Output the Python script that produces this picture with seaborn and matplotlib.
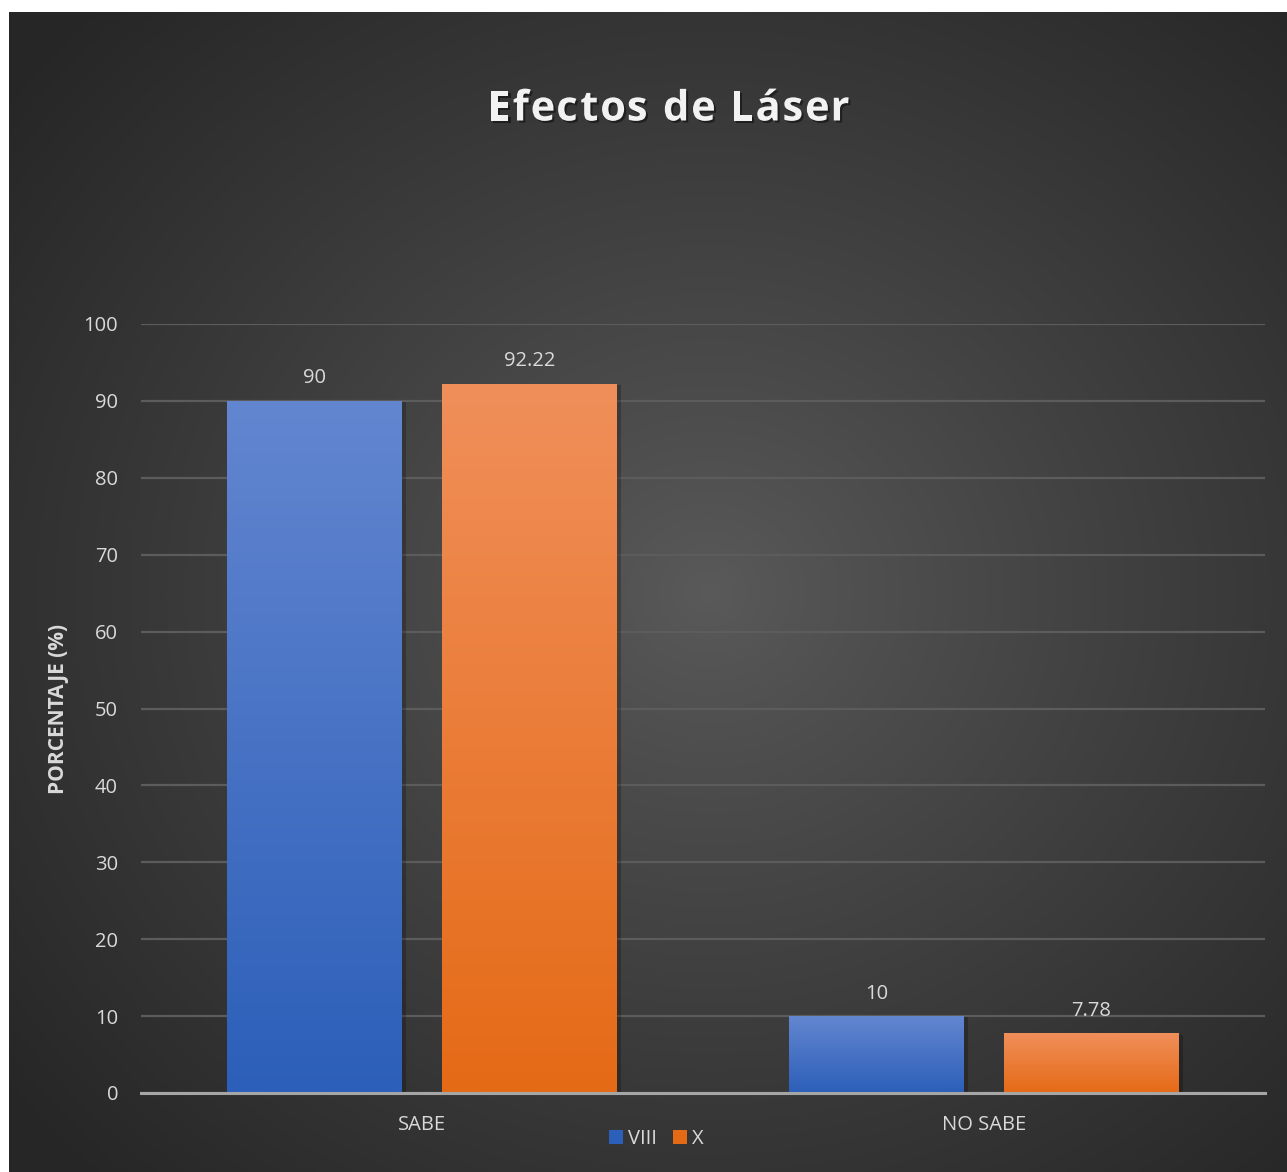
import numpy as np
import pandas as pd
import matplotlib
matplotlib.use("Agg")
import matplotlib.pyplot as plt
import matplotlib.patheffects as pe
from matplotlib.colors import LinearSegmentedColormap, to_rgb
from matplotlib.patches import Patch
import seaborn as sns

# Data
categories = ["SABE", "NO SABE"]
series = ["VIII", "X"]
values_viii = [90, 10]
values_x = [92.22, 7.78]
y_ticks = [0, 10, 20, 30, 40, 50, 60, 70, 80, 90, 100]
title = "Efectos de Láser"

df = pd.DataFrame({
    "categoria": categories * 2,
    "grupo": [series[0]] * 2 + [series[1]] * 2,
    "valor": values_viii + values_x,
})

W, H = 1287, 1172
DPI = 100
FONT = "Open Sans"
TXT = "#d9d9d9"
FS = 14.5

sns.set_theme(style="dark")
plt.rcParams["font.family"] = [FONT, "DejaVu Sans"]

fig = plt.figure(figsize=(W / DPI, H / DPI), dpi=DPI, facecolor="white")

# Chart area with radial dark background
bx0, by_top = 9, 12
bg_ax = fig.add_axes([bx0 / W, 0, (W - bx0) / W, (H - by_top) / H])
bg_ax.set_axis_off()
bw, bh = W - bx0, H - by_top
yy, xx = np.mgrid[0:bh, 0:bw]
cx, cy = 700, 580
d = np.sqrt(((xx - cx) / 900.0) ** 2 + ((yy - cy) / 820.0) ** 2)
d = np.clip(d, 0, 1) ** 0.9
c_in = np.array(to_rgb("#5a5a5a"))
c_out = np.array(to_rgb("#262626"))
img = c_in[None, None, :] * (1 - d[..., None]) + c_out[None, None, :] * d[..., None]
bg_ax.imshow(img, aspect="auto", extent=[0, 1, 0, 1], interpolation="bilinear")
bg_ax.set_xlim(0, 1)
bg_ax.set_ylim(0, 1)

# Plot axes
ax_l, ax_r = 141, 1265
ax_bot, ax_top = 1093, 324
ax = fig.add_axes([ax_l / W, (H - ax_bot) / H, (ax_r - ax_l) / W, (ax_bot - ax_top) / H])
ax.set_facecolor("none")

blue_top, blue_bot = "#6386d0", "#2c5fb9"
orng_top, orng_bot = "#f08f5a", "#e56a16"

sns.barplot(data=df, x="categoria", y="valor", hue="grupo", order=categories,
            hue_order=series, palette=[blue_bot, orng_bot], width=0.765, gap=0.186,
            ax=ax, legend=False, saturation=1, zorder=3, linewidth=0, edgecolor="none")

ax.set_xlim(-0.5, 1.5)
ax.set_ylim(0, 100)
ax.set_yticks(y_ticks)
ax.set_yticklabels([str(t) for t in y_ticks], color=TXT, fontsize=FS)
ax.tick_params(axis="y", length=0, pad=16.5)
ax.tick_params(axis="x", length=0, pad=16, colors=TXT, labelsize=FS)
ax.set_xlabel("")
ax.set_ylabel("PORCENTAJE (%)", color=TXT, fontsize=15, fontweight="bold")
ax.yaxis.set_label_coords(-0.064, 0.5)
for lab in ax.get_xticklabels():
    lab.set_color(TXT)

ax.grid(axis="y", color="#5c5c5c", linewidth=1.6, zorder=0)
ax.grid(axis="x", visible=False)
for s in ["top", "right", "left"]:
    ax.spines[s].set_visible(False)
ax.spines["bottom"].set_color("#a6a6a6")
ax.spines["bottom"].set_linewidth(2.2)
ax.spines["bottom"].set_zorder(5)

# Gradient fills for bars
bars = [p for p in ax.patches if p.get_height() > 0]
grad = np.linspace(0, 1, 256).reshape(-1, 1)
for p in bars:
    fc = p.get_facecolor()[:3]
    is_blue = np.allclose(fc, to_rgb(blue_bot), atol=0.02)
    top, bot = (blue_top, blue_bot) if is_blue else (orng_top, orng_bot)
    cmap = LinearSegmentedColormap.from_list("g", [bot, top])
    x0, w, h = p.get_x(), p.get_width(), p.get_height()
    p.set_path_effects([pe.SimplePatchShadow(offset=(3, -1), shadow_rgbFace="black", alpha=0.22), pe.Normal()])
    im = ax.imshow(grad, cmap=cmap, aspect="auto", origin="lower",
                   extent=[x0, x0 + w, 0, h], zorder=4, interpolation="bilinear")
    im.set_clip_path(p)

ax.set_xlim(-0.5, 1.5)
ax.set_ylim(0, 100)

# Value labels
for cont in ax.containers:
    ax.bar_label(cont, labels=[f"{v:g}" for v in cont.datavalues], padding=9,
                 color=TXT, fontsize=FS, zorder=6)

# Title with letter spacing
renderer = fig.canvas.get_renderer()
t_fs, track = 30, 1.8
t_kw = dict(color="#f2f2f2", fontsize=t_fs, fontweight="bold", va="center", ha="left",
            path_effects=[pe.withSimplePatchShadow(offset=(1.5, -1.5), shadow_rgbFace="black", alpha=0.45)])

def text_w(s):
    t = fig.text(0, 0, s + "x", fontsize=t_fs, fontweight="bold")
    w1 = t.get_window_extent(renderer).width
    t.remove()
    t = fig.text(0, 0, "x", fontsize=t_fs, fontweight="bold")
    w0 = t.get_window_extent(renderer).width
    t.remove()
    return w1 - w0

total = text_w(title) + track * (len(title) - 1)
x_start = 669 - total / 2
y_px = H - 110
for i, ch in enumerate(title):
    if ch == " ":
        continue
    xp = x_start + (text_w(title[:i]) if i else 0) + track * i
    fig.text(xp / W, y_px / H, ch, **t_kw)

# Legend
handles = [Patch(facecolor=blue_bot, edgecolor="none", label=series[0]),
           Patch(facecolor=orng_bot, edgecolor="none", label=series[1])]
fig.legend(handles=handles, loc="center", bbox_to_anchor=(656 / W, 1 - 1139 / H),
           ncol=2, frameon=False, fontsize=FS, labelcolor=TXT,
           handlelength=0.7, handleheight=0.7, handletextpad=0.25, columnspacing=0.8)

fig.savefig("out.png", dpi=DPI, facecolor="white")
